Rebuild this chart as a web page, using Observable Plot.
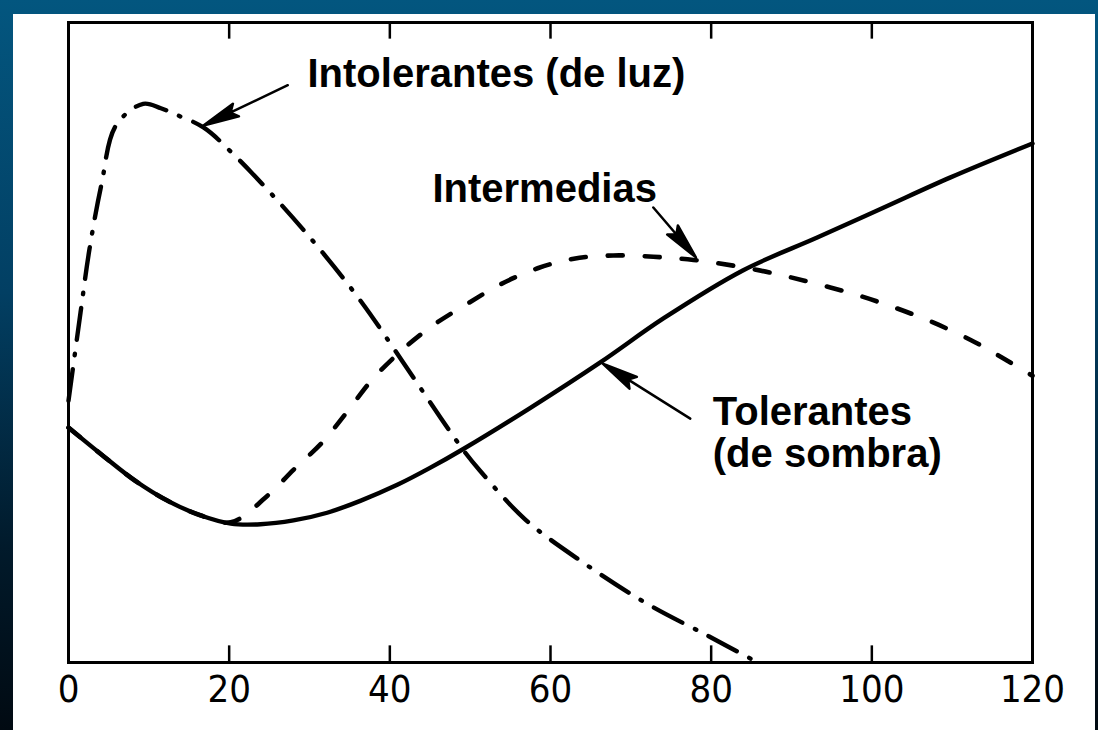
<!DOCTYPE html>
<html>
<head>
<meta charset="utf-8">
<script src="https://cdn.jsdelivr.net/npm/d3@7"></script>
<script src="https://cdn.jsdelivr.net/npm/@observablehq/plot@0.6"></script>
<style>
  html, body { margin: 0; padding: 0; }
  body {
    width: 1098px; height: 730px; overflow: hidden; position: relative;
    background: linear-gradient(to bottom, #03567f 0%, #023f63 40%, #011a2b 75%, #010a12 100%);
  }
  #card { position: absolute; left: 13px; top: 14px; width: 1082px; height: 716px; background: #ffffff; }
  #card svg { display: block; }
</style>
</head>
<body>
<div id="card"></div>
<script>
// Edad / tiempo (eje x)
const xTicks = [0, 20, 40, 60, 80, 100, 120];
const innerTicks = [20, 40, 60, 80, 100];

// Tolerantes (de sombra) — línea continua
const tolX = [0, 4.4, 8.3, 12.3, 16.4, 20.2, 23.9, 28.0, 32.2, 36.4, 41.0, 45.0, 49.2, 57.5, 66.2, 74.1, 84.0, 93.2, 101.5, 109.8, 120];
const tolY = [36.7, 32.2, 28.4, 25.3, 23.0, 21.7, 21.6, 22.2, 23.4, 25.3, 27.8, 30.4, 33.4, 39.8, 46.9, 53.8, 61.3, 66.4, 71.1, 75.8, 81.1];

// Intermedias — línea discontinua
const medX = [0, 4.4, 8.3, 12.3, 16.4, 20.2, 24.8, 28.0, 31.6, 34.7, 37.8, 41.6, 45.4, 49.7, 53.8, 58.4, 62.9, 67.8, 72.8, 77.8, 82.8, 87.8, 92.7, 97.7, 102.3, 107.3, 112.3, 116.4, 120];
const medY = [36.7, 32.2, 28.4, 25.3, 23.0, 21.9, 26.1, 30.1, 34.4, 39.2, 44.2, 48.9, 52.7, 56.1, 59.1, 61.6, 63.1, 63.6, 63.4, 62.9, 62.0, 60.8, 59.3, 57.6, 55.7, 53.3, 50.4, 47.5, 44.8];

// Intolerantes (de luz) — línea de trazo y punto
const intX = [0, 1.5, 2.6, 4.1, 5.9, 9.3, 11.5, 13.4, 16.8, 20.3, 26.0, 31.4, 36.6, 41.6, 46.4, 49.2, 51.2, 56.9, 64.2, 72.0, 79.7, 85.8];
const intY = [40.9, 54.7, 64.5, 74.7, 83.9, 87.3, 86.6, 85.6, 83.6, 79.7, 72.2, 64.4, 56.1, 47.0, 38.1, 33.1, 30.0, 22.3, 15.5, 9.2, 4.1, 0];

// Etiquetas y flechas
const labelText = ["Intolerantes (de luz)", "Intermedias", "Tolerantes\n(de sombra)"];
const labelX = [29.75, 45.3, 80.2];
const labelY = [89.9, 71.9, 30.5];
const arrowX1 = [27.3, 72.8, 77.4];
const arrowY1 = [90.2, 71.1, 38.1];
const arrowX2 = [16.8, 78.1, 66.5];
const arrowY2 = [83.9, 63.3, 46.7];

const W = 1082, H = 716, mL = 55, mR = 63, mT = 8, mB = 68;
const sx = d3.scaleLinear([0, 120], [mL, W - mR]);
const sy = d3.scaleLinear([0, 100], [H - mB, mT]);

const tol = tolX.map((x, i) => ({x, y: tolY[i]}));
const med = medX.map((x, i) => ({x, y: medY[i]}));
const intol = intX.map((x, i) => ({x, y: intY[i]}));
const labels = labelText.map((t, i) => ({t, x: labelX[i], y: labelY[i]}));
const arrows = arrowX1.map((x1, i) => {
  const dx = sx(arrowX2[i]) - sx(x1), dy = sy(arrowY2[i]) - sy(arrowY1[i]);
  return {x: x1, y: arrowY1[i], len: Math.hypot(dx, dy), rot: Math.atan2(dx, -dy) * 180 / Math.PI};
});

const arrowShape = {
  draw(ctx, l) {
    const h = 36, w = 7;
    ctx.moveTo(0, 0);
    ctx.lineTo(0, -(l - h + 4));
    ctx.moveTo(0, -l);
    ctx.lineTo(w, -(l - h));
    ctx.lineTo(0, -(l - h + 6));
    ctx.lineTo(-w, -(l - h));
    ctx.closePath();
  }
};

const font = "'Liberation Sans', Arial, sans-serif";

const chart = Plot.plot({
  width: W, height: H,
  marginLeft: mL, marginRight: mR, marginTop: mT, marginBottom: mB,
  style: {background: "white", color: "black", fontFamily: font},
  x: {domain: [0, 120]},
  y: {domain: [0, 100], axis: null},
  length: {type: "identity"},
  marks: [
    Plot.line(tol, {x: "x", y: "y", curve: "catmull-rom", stroke: "black", strokeWidth: 4.4}),
    Plot.line(med, {x: "x", y: "y", curve: "catmull-rom", stroke: "black", strokeWidth: 4.6, strokeDasharray: "15,22", strokeLinecap: "round"}),
    Plot.line(intol, {x: "x", y: "y", curve: "catmull-rom", stroke: "black", strokeWidth: 4.4, strokeDasharray: "32,14,1.5,14", strokeLinecap: "round"}),
    Plot.ruleX(innerTicks, {x: d => d, y1: 0, y2: 2.6, stroke: "black", strokeWidth: 2.5}),
    Plot.ruleX(innerTicks, {x: d => d, y1: 97.4, y2: 100, stroke: "black", strokeWidth: 2.5}),
    Plot.frame({stroke: "black", strokeWidth: 3}),
    Plot.axisX({ticks: xTicks, tickSize: 0, tickPadding: 13, fontSize: 38, label: null,
      fontFamily: "'Liberation Sans Narrow', 'DejaVu Sans Condensed', 'Liberation Sans', sans-serif",
      tickFormat: d => String(d)}),
    Plot.vector(arrows, {x: "x", y: "y", length: "len", rotate: "rot", anchor: "start", shape: arrowShape,
      stroke: "black", fill: "black", strokeWidth: 2.5}),
    Plot.text(labels, {x: "x", y: "y", text: "t", textAnchor: "start", lineAnchor: "bottom",
      fontSize: 40, fontWeight: "bold", lineHeight: 1.05, fill: "black", fontFamily: font})
  ]
});
document.getElementById("card").appendChild(chart);
</script>
</body>
</html>
